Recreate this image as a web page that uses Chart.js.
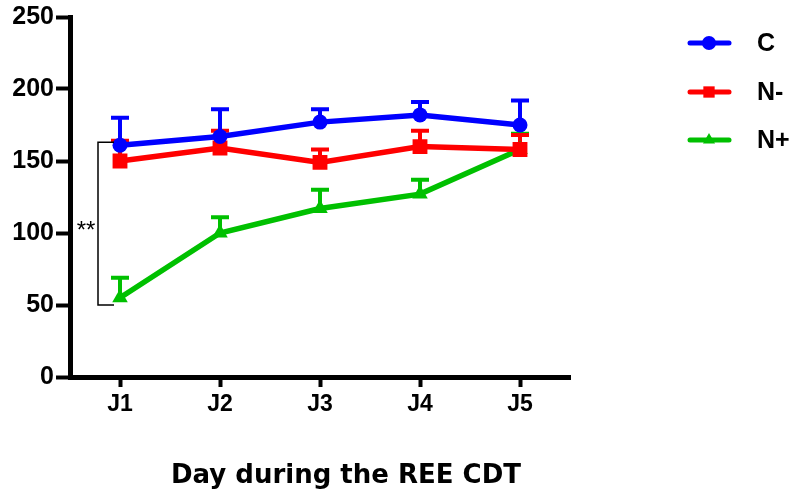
<!DOCTYPE html>
<html>
<head>
<meta charset="utf-8">
<script src="https://cdn.jsdelivr.net/npm/chart.js@4.4.1/dist/chart.umd.min.js"></script>
<style>
  html, body { margin: 0; padding: 0; background: #fff; }
  #wrap { width: 792px; height: 499px; position: relative; }
</style>
</head>
<body>
<div id="wrap"><canvas id="chart" width="792" height="499"></canvas></div>
<script>
var days = ["J1", "J2", "J3", "J4", "J5"];
var yTicks = [0, 50, 100, 150, 200, 250];

var seriesNames = ["C", "N-", "N+"];
var cMean = [161, 167, 177, 182, 175];
var cErr = [180, 186, 186, 191, 192];
var nMinusMean = [150, 159, 149, 160, 158];
var nMinusErr = [164, 171, 158, 171, 168];
var nPlusMean = [55, 100, 117, 127, 158];
var nPlusErr = [69, 111, 130, 137, 169];

// significance bracket on J1: C vs N+
var bracketLow = 50;
var bracketHigh = 163;
var bracketLabel = "**";
var xTitle = "Day during the REE CDT";

var blue = "#0000ff", red = "#ff0000", green = "#00c000";
var tickFont = "'Liberation Sans', Arial, sans-serif";
var titleFont = "'DejaVu Sans', 'Noto Sans', sans-serif";

// error bars, drawn under the lines
var errorBars = {
  id: "errorBars",
  beforeDatasetsDraw: function(chart) {
    var ctx = chart.ctx;
    var x = chart.scales.x, y = chart.scales.y;
    var tops = [cErr, nMinusErr, nPlusErr];
    ctx.save();
    for (var d = chart.data.datasets.length - 1; d >= 0; d--) {
      var ds = chart.data.datasets[d];
      ctx.strokeStyle = ds.borderColor;
      ctx.lineWidth = 4;
      for (var i = 0; i < ds.data.length; i++) {
        var px = x.getPixelForValue(i);
        var py = y.getPixelForValue(ds.data[i]);
        var pt = y.getPixelForValue(tops[d][i]);
        ctx.beginPath();
        ctx.moveTo(px, py);
        ctx.lineTo(px, pt);
        ctx.moveTo(px - 9, pt);
        ctx.lineTo(px + 9, pt);
        ctx.stroke();
      }
    }
    ctx.restore();
  }
};

// bracket + stars, x title and the legend on the right
var extras = {
  id: "extras",
  afterDraw: function(chart) {
    var ctx = chart.ctx;
    var x = chart.scales.x, y = chart.scales.y;
    var x0 = x.getPixelForValue(0);
    var yl = y.getPixelForValue(bracketLow);
    var yh = y.getPixelForValue(bracketHigh);
    ctx.save();
    ctx.strokeStyle = "#000";
    ctx.lineWidth = 1.5;
    ctx.beginPath();
    ctx.moveTo(x0 - 6, yh);
    ctx.lineTo(x0 - 22, yh);
    ctx.lineTo(x0 - 22, yl);
    ctx.lineTo(x0 - 6, yl);
    ctx.stroke();
    ctx.fillStyle = "#000";
    ctx.font = "24px " + tickFont;
    ctx.textAlign = "center";
    ctx.textBaseline = "middle";
    ctx.fillText(bracketLabel, x0 - 34, y.getPixelForValue((bracketLow + bracketHigh) / 2) + 8);

    ctx.font = "bold 26px " + titleFont;
    ctx.fillText(xTitle, 346, 476);

    var ds = chart.data.datasets;
    var legendY = [43, 92, 140];
    for (var i = 0; i < ds.length; i++) {
      var ly = legendY[i];
      ctx.strokeStyle = ds[i].borderColor;
      ctx.lineWidth = 5;
      ctx.lineCap = "round";
      ctx.beginPath();
      ctx.moveTo(690, ly);
      ctx.lineTo(729, ly);
      ctx.stroke();
      ctx.fillStyle = ds[i].borderColor;
      Chart.helpers.drawPoint(ctx, {pointStyle: ds[i].pointStyle, radius: i === 1 ? 8 : 7, borderWidth: 0, rotation: 0}, 709, ly);
      ctx.fillStyle = "#000";
      ctx.textAlign = "left";
      ctx.font = "bold 25px " + tickFont;
      ctx.fillText(seriesNames[i], 757, ly + 1);
    }
    ctx.restore();
  }
};

new Chart(document.getElementById("chart"), {
  type: "line",
  data: {
    labels: days,
    datasets: [
      {label: seriesNames[0], data: cMean, borderColor: blue, backgroundColor: blue,
       pointStyle: "circle", pointRadius: 7.5, borderWidth: 5.5, pointBorderWidth: 0},
      {label: seriesNames[1], data: nMinusMean, borderColor: red, backgroundColor: red,
       pointStyle: "rect", pointRadius: 10.5, borderWidth: 5.5, pointBorderWidth: 0},
      {label: seriesNames[2], data: nPlusMean, borderColor: green, backgroundColor: green,
       pointStyle: "triangle", pointRadius: 9, borderWidth: 5.5, pointBorderWidth: 0}
    ]
  },
  options: {
    responsive: false,
    animation: false,
    layout: {padding: {top: 13, right: 222, left: 0, bottom: 0}},
    plugins: {legend: {display: false}, tooltip: {enabled: false}},
    scales: {
      x: {
        offset: true,
        grid: {display: true, offset: false, drawOnChartArea: false, tickLength: 10, tickWidth: 4, color: "#000"},
        border: {display: true, width: 5, color: "#000"},
        ticks: {color: "#000", font: {family: tickFont, size: 23, weight: "bold"}, padding: 4},
        afterFit: function(scale) { scale.height = 122; }
      },
      y: {
        min: 0, max: 250,
        afterBuildTicks: function(scale) { scale.ticks = yTicks.map(function(v) { return {value: v}; }); },
        grid: {display: true, drawOnChartArea: false, tickLength: 14, tickWidth: 4, color: "#000"},
        border: {display: true, width: 5, color: "#000"},
        ticks: {color: "#000", font: {family: tickFont, size: 25, weight: "bold"}, padding: 2},
        afterFit: function(scale) { scale.width = 70; }
      }
    }
  },
  plugins: [errorBars, extras]
});
</script>
</body>
</html>
